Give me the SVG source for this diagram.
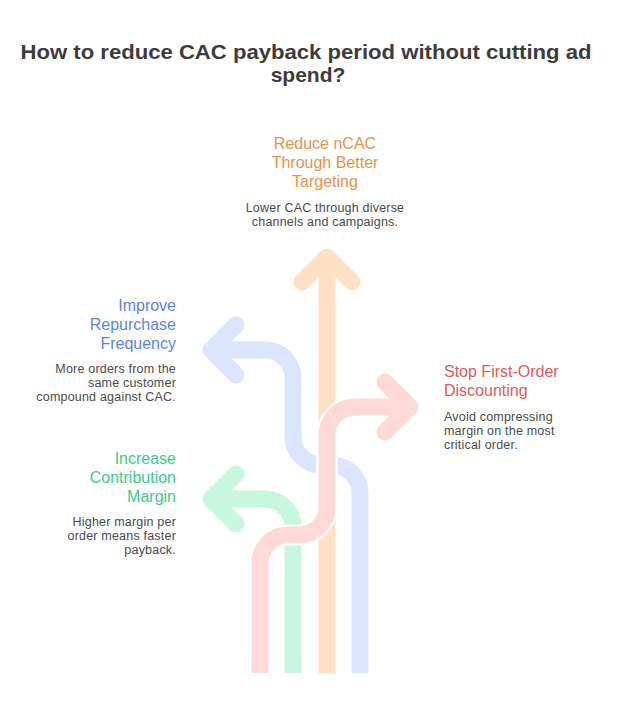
<svg xmlns="http://www.w3.org/2000/svg" width="620" height="714" viewBox="0 0 620 714">
<style>
text{font-family:"Liberation Sans","Noto Sans",Arial,sans-serif}
.title{font-size:21px;font-weight:bold;fill:#3c3c3c;text-anchor:middle}
.h{font-size:16px}
.b{font-size:12.5px;fill:#4a4a4a;letter-spacing:0.2px}
.w{fill:none;stroke:#ffffff;stroke-width:21;stroke-linejoin:round}
.s{fill:none;stroke-width:17;stroke-linejoin:round}
.hd{fill:none;stroke-width:17;stroke-linejoin:round;stroke-linecap:round}
.blue{stroke:#dbe5fd}
.green{stroke:#c8f7df}
.orange{stroke:#ffe1c5}
.pink{stroke:#ffd8d8}
</style>
<rect width="620" height="714" fill="#ffffff"/>
<g id="title">
<text class="title" x="306" y="59" textLength="571" lengthAdjust="spacingAndGlyphs">How to reduce CAC payback period without cutting ad</text>
<text class="title" x="308" y="82">spend?</text>
</g>
<g id="connectors">
<g id="arrow-blue">
<path class="w" d="M360,673 V493 A28,28 0 0 0 332,465 H321 A28,28 0 0 1 293,437 V378 A28,28 0 0 0 265,350 H211"/>
<path class="s blue" d="M360,673 V493 A28,28 0 0 0 332,465 H321 A28,28 0 0 1 293,437 V378 A28,28 0 0 0 265,350 H211"/>
<path class="hd blue" d="M236,325 L211,350 L236,375"/>
</g>
<g id="arrow-green">
<path class="w" d="M293,673 V527 A28,28 0 0 0 265,499 H211"/>
<path class="s green" d="M293,673 V527 A28,28 0 0 0 265,499 H211"/>
<path class="hd green" d="M236,474 L211,499 L236,524"/>
</g>
<g id="arrow-orange">
<path class="w" d="M327,673 V257"/>
<path class="s orange" d="M327,673 V257"/>
<path class="hd orange" d="M302,282 L327,257 L352,282"/>
</g>
<g id="arrow-pink">
<path class="w" d="M260,673 V563 A28,28 0 0 1 288,535 H299 A28,28 0 0 0 327,507 V435 A28,28 0 0 1 355,407 H410"/>
<path class="s pink" d="M260,673 V563 A28,28 0 0 1 288,535 H299 A28,28 0 0 0 327,507 V435 A28,28 0 0 1 355,407 H410"/>
<path class="hd pink" d="M385,382 L410,407 L385,432"/>
</g>
</g>
<g id="node-ncac" text-anchor="middle">
<text class="h" fill="#e8914a" x="325" y="149">Reduce nCAC</text>
<text class="h" fill="#e8914a" x="325" y="168">Through Better</text>
<text class="h" fill="#e8914a" x="325" y="187">Targeting</text>
<text class="b" x="325" y="212">Lower CAC through diverse</text>
<text class="b" x="325" y="226">channels and campaigns.</text>
</g>
<g id="node-repurchase" text-anchor="end">
<text class="h" fill="#5b84e4" x="176" y="311">Improve</text>
<text class="h" fill="#5b84e4" x="176" y="330">Repurchase</text>
<text class="h" fill="#5b84e4" x="176" y="349">Frequency</text>
<text class="b" x="176" y="373">More orders from the</text>
<text class="b" x="176" y="387">same customer</text>
<text class="b" x="176" y="401">compound against CAC.</text>
</g>
<g id="node-discount" text-anchor="start">
<text class="h" fill="#e05a5a" x="444" y="377">Stop First-Order</text>
<text class="h" fill="#e05a5a" x="444" y="396">Discounting</text>
<text class="b" x="444" y="421">Avoid compressing</text>
<text class="b" x="444" y="435">margin on the most</text>
<text class="b" x="444" y="449">critical order.</text>
</g>
<g id="node-margin" text-anchor="end">
<text class="h" fill="#3ec98c" x="176" y="464">Increase</text>
<text class="h" fill="#3ec98c" x="176" y="483">Contribution</text>
<text class="h" fill="#3ec98c" x="176" y="502">Margin</text>
<text class="b" x="176" y="526">Higher margin per</text>
<text class="b" x="176" y="540">order means faster</text>
<text class="b" x="176" y="554">payback.</text>
</g>
</svg>
